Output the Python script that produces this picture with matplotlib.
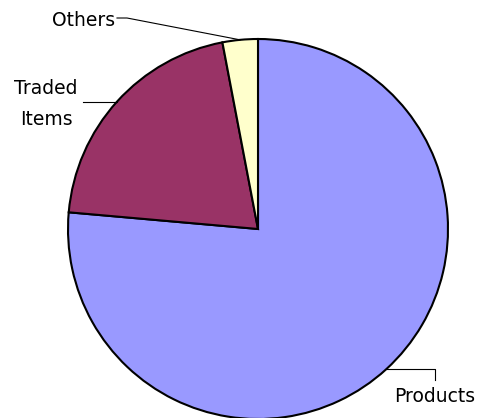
import numpy as np
import matplotlib
matplotlib.use("Agg")
import matplotlib.pyplot as plt

labels = ["Products", "Traded Items", "Others"]
shares = [76.4, 20.6, 3.0]
colors = ["#9999FF", "#993366", "#FFFFCC"]

W, H = 483, 418
fig = plt.figure(figsize=(W / 100, H / 100), dpi=100)
ax = fig.add_axes([0, 0, 1, 1])

cx, cy, r = 258, 229, 190
# y axis is inverted, so clockwise on screen is counterclock in data terms
wedges, _ = ax.pie(shares, colors=colors, startangle=-90, counterclock=True,
                   center=(cx, cy), radius=r, frame=True,
                   wedgeprops=dict(edgecolor="black", linewidth=1.5))
ax.set_xlim(0, W)
ax.set_ylim(H, 0)
ax.set_aspect("equal")
ax.axis("off")

def edge_pt(w):
    a = np.deg2rad((w.theta1 + w.theta2) / 2)
    return cx + r * np.cos(a), cy + r * np.sin(a)

font = dict(fontsize=13.5, family="DejaVu Sans", color="black")
lk = dict(color="black", lw=0.8)

# Products
x0, y0 = edge_pt(wedges[0])
ax.plot([x0, 435, 435], [y0, y0, 380], **lk)
ax.text(435, 396, labels[0], ha="center", va="center", **font)

# Traded Items
x0, y0 = edge_pt(wedges[1])
ax.plot([x0, 83], [y0, y0], **lk)
ax.text(46, 104, "Traded\nItems", ha="center", va="center", linespacing=1.75, **font)

# Others
x0, y0 = edge_pt(wedges[2])
ax.plot([x0, 127, 117], [y0, 18, 18], **lk)
ax.text(115, 21, labels[2], ha="right", va="center", **font)

fig.savefig("out.png", dpi=100)
